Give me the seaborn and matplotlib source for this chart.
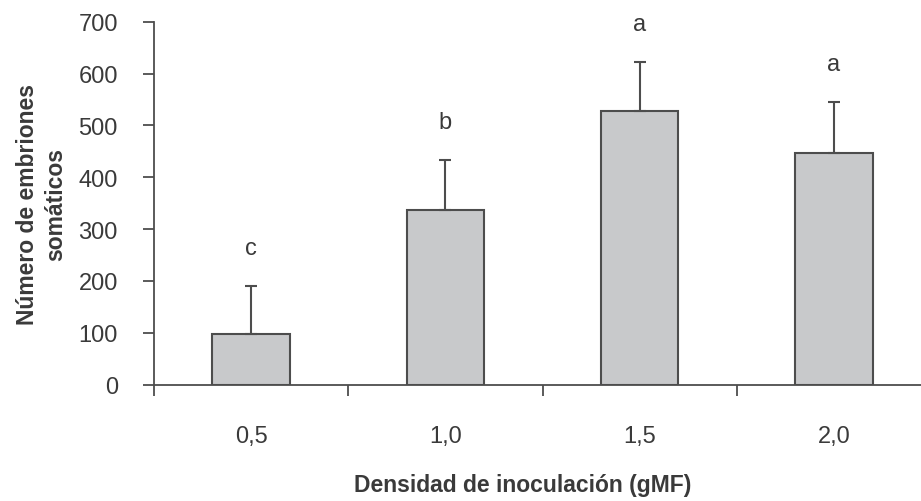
import pandas as pd
import matplotlib
matplotlib.use("Agg")
import matplotlib.pyplot as plt
import seaborn as sns
import numpy as np

# data
densidad = ["0,5", "1,0", "1,5", "2,0"]
embriones = [97, 336, 527, 446]
error_sup = [94, 97, 95, 99]
letras = ["c", "b", "a", "a"]

sns.set_style("white")
plt.rcParams["font.family"] = ["Liberation Sans Narrow", "Liberation Sans", "DejaVu Sans"]
txt_color = "#3a3a3a"
edge_color = "#4d4d4d"

df = pd.DataFrame({"densidad": densidad, "embriones": embriones})

fig = plt.figure(figsize=(9.21, 5.02), dpi=100)
ax = fig.add_axes([154 / 921, 1 - 385.7 / 502, 777 / 921, 363 / 502])

sns.barplot(data=df, x="densidad", y="embriones", color="#c8c9cb", width=0.4,
            edgecolor=edge_color, linewidth=1.5, errorbar=None, ax=ax, saturation=1)

# upper error bars only
x_pos = np.arange(len(densidad))
ax.errorbar(x_pos, embriones, yerr=[np.zeros(len(error_sup)), error_sup], fmt="none",
            ecolor=edge_color, elinewidth=1.5, capsize=4.5, capthick=1.5)

# significance letters
for i, (m, e, l) in enumerate(zip(embriones, error_sup, letras)):
    ax.text(i, m + e + 62, l, ha="center", va="baseline", fontsize=17, color=txt_color)

ax.set_xlim(-0.5, 3.5)
ax.set_ylim(0, 700)
ax.set_yticks(range(0, 701, 100))

# ticks between categories on x, labels at centres
ax.set_xticks(np.arange(-0.5, 3.0, 1.0), minor=True)
ax.tick_params(axis="x", which="major", length=0, pad=29, labelsize=17, labelcolor=txt_color)
ax.tick_params(axis="x", which="minor", length=8, width=1.3, color=edge_color, direction="out", bottom=True)
ax.tick_params(axis="y", length=8, width=1.3, color=edge_color, direction="out", left=True,
               pad=18, labelsize=17, labelcolor=txt_color)

for s in ["top", "right"]:
    ax.spines[s].set_visible(False)
for s in ["left", "bottom"]:
    ax.spines[s].set_color(edge_color)
    ax.spines[s].set_linewidth(1.3)

ax.set_xlabel("Densidad de inoculación (gMF)", fontsize=16.5, fontweight="bold", color=txt_color)
ax.xaxis.set_label_coords(0.475, -0.243)
ax.set_ylabel("Número de embriones\nsomáticos", fontsize=16.5, fontweight="bold", color=txt_color,
              linespacing=1.25)
ax.yaxis.set_label_coords((67 - 154) / 777, 0.5)

fig.savefig("out.png", dpi=100)
